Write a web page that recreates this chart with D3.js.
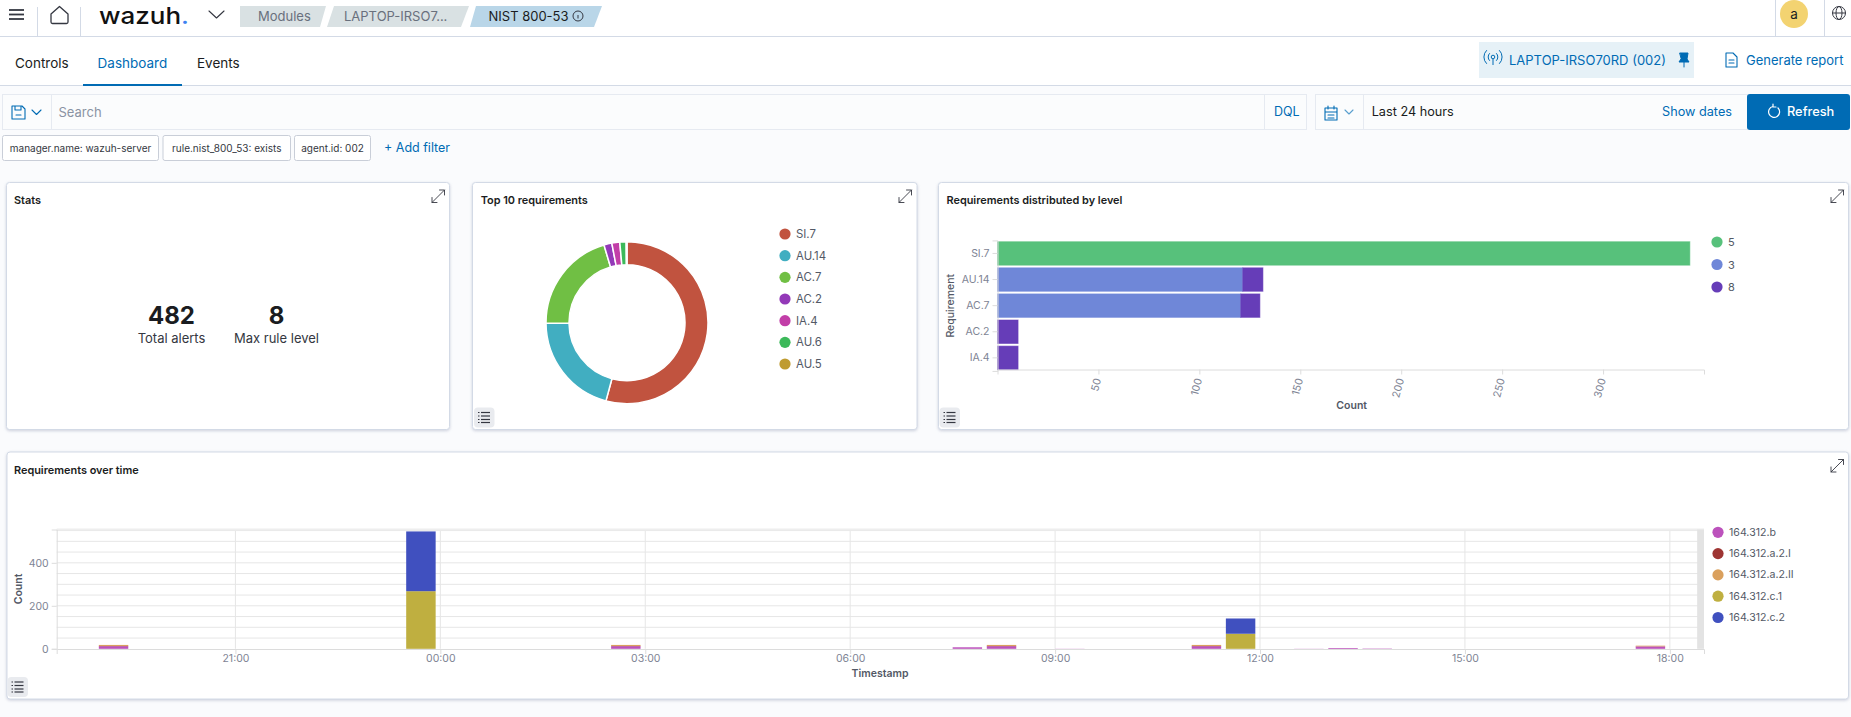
<!DOCTYPE html>
<html><head><meta charset="utf-8">
<script src="https://cdn.jsdelivr.net/npm/d3@7"></script>
<style>
html,body{margin:0;padding:0;background:#fafbfd;overflow:hidden}
svg{display:block}
text{font-family:Inter,"Noto Sans",sans-serif}
</style></head><body><svg id="c" width="1851" height="717"></svg>
<script>
// ---- data ----
const pieLabels = ["SI.7","AU.14","AC.7","AC.2","IA.4","AU.6","AU.5"];
const pieValues = [343,131,130,10,10,8,1];
const pieColors = ["#c1533f","#41aec1","#70bf44","#9339b8","#c23ea8","#3cb95a","#bf9b30"];

const levelCats = ["SI.7","AU.14","AC.7","AC.2","IA.4"];
const levelKeys = ["5","3","8"];
const level5 = [343,0,0,0,0];
const level3 = [0,121.5,120.5,0,0];
const level8 = [0,10,9.5,10.2,10.2];
const levelColors = ["#57c17b","#6f87d8","#663db8"];
const levelTicks = [50,100,150,200,250,300];

const timeKeys = ["164.312.b","164.312.a.2.I","164.312.a.2.II","164.312.c.1","164.312.c.2"];
const timeColors = ["#bc52bc","#9e3533","#daa05d","#bfaf40","#4050bf"];
const timeBins = ["2021-01-01T19:00","2021-01-01T23:30","2021-01-02T02:30","2021-01-02T07:30","2021-01-02T08:00","2021-01-02T09:00","2021-01-02T11:00","2021-01-02T11:30","2021-01-02T12:30","2021-01-02T13:00","2021-01-02T13:30","2021-01-02T17:30"];
const seriesB    = [12,0,12,7,12,0.6,12,0,0.6,3.5,1.5,11];
const seriesAI   = [1,0,1,0,1,0,1,0,0,0,0,0.5];
const seriesAII  = [5,0,5,0,5,0,5,0,0,0,0,3];
const seriesC1   = [0,268,0,0,0,0,0,70,0,0,0,0];
const seriesC2   = [0,278,0,0,0,0,0,71,0,0,0,0];
const timeTicks = ["2021-01-01T21:00","2021-01-02T00:00","2021-01-02T03:00","2021-01-02T06:00","2021-01-02T09:00","2021-01-02T12:00","2021-01-02T15:00","2021-01-02T18:00"];
const countTicks = [0,200,400];
const gridCounts = [50,100,150,200,250,300,350,400,450,500,550];

// ---- helpers ----
const svg = d3.select("#c");
const BLUE="#006bb4", BORDER="#d3dae6", INK="#1a1c21", MUTED="#69707d";
function txt(g,x,y,s,o={}){return g.append("text").attr("x",x).attr("y",y).attr("dominant-baseline","central")
  .attr("font-size",o.size||13.5).attr("font-weight",o.weight||400).attr("fill",o.fill||INK)
  .attr("text-anchor",o.anchor||"start").text(s);}
function rect(g,x,y,w,h,fill,o={}){return g.append("rect").attr("x",x).attr("y",y).attr("width",w).attr("height",h)
  .attr("fill",fill).attr("stroke",o.stroke||"none").attr("rx",o.rx||0);}
function line(g,x1,y1,x2,y2,c,w=1){return g.append("line").attr("x1",x1).attr("y1",y1).attr("x2",x2).attr("y2",y2).attr("stroke",c).attr("stroke-width",w);}
function path(g,d,o={}){return g.append("path").attr("d",d).attr("fill",o.fill||"none").attr("stroke",o.stroke||"none").attr("stroke-width",o.w||1).attr("stroke-linecap","round").attr("stroke-linejoin","round");}

// ---- page chrome ----
const ch = svg.append("g");
rect(ch,0,0,1851,717,"#fafbfd");
rect(ch,0,0,1851,85,"#fff");
line(ch,0,36.5,1851,36.5,BORDER);
line(ch,0,85.5,1851,85.5,BORDER);
// top bar
[10,14.5,19].forEach(y=>line(ch,9,y,24,y,"#343741",1.8));
line(ch,37.5,7,37.5,36,BORDER); line(ch,80.5,7,80.5,36,BORDER);
path(ch,"M51 14 L59.5 6.5 L68 14 V22 a1.5 1.5 0 0 1 -1.5 1.5 H52.5 a1.5 1.5 0 0 1 -1.5 -1.5 Z",{stroke:"#343741",w:1.3});
const logo = txt(ch,99,15.5,"",{size:23,weight:500,fill:"#111"});
logo.attr("textLength",90).attr("lengthAdjust","spacingAndGlyphs");
logo.append("tspan").text("wazuh");
logo.append("tspan").attr("fill","#3d82f1").text(".");
path(ch,"M209 11 L216.5 18 L224 11",{stroke:"#343741",w:1.1});
path(ch,"M240 6 H326 L320 27 H240 Z",{fill:"#d9e1e3"});
path(ch,"M334 6 H469 L461 27 H327 Z",{fill:"#d9e1e3"});
path(ch,"M476 6 H602 L594 27 H470 Z",{fill:"#b9d6e8"});
txt(ch,258,16,"Modules",{fill:MUTED,size:13});
txt(ch,344,16,"LAPTOP-IRSO7...",{fill:MUTED,size:13});
txt(ch,488.5,16,"NIST 800-53",{size:13});
ch.append("circle").attr("cx",578).attr("cy",16).attr("r",5).attr("fill","none").attr("stroke","#343741");
line(ch,578,15,578,18.5,"#343741");
line(ch,1775.5,0,1775.5,36,BORDER); line(ch,1824.5,0,1824.5,36,BORDER);
ch.append("circle").attr("cx",1794).attr("cy",14).attr("r",14).attr("fill","#f3d371");
txt(ch,1794,14,"a",{anchor:"middle",size:13.5});
ch.append("circle").attr("cx",1839).attr("cy",13).attr("r",6.5).attr("fill","none").attr("stroke","#343741");
ch.append("ellipse").attr("cx",1839).attr("cy",13).attr("rx",3).attr("ry",6.5).attr("fill","none").attr("stroke","#343741");
line(ch,1832.5,13,1845.5,13,"#343741");
// tabs
txt(ch,15,62.5,"Controls",{size:13.5});
txt(ch,97.6,62.5,"Dashboard",{size:13.5,fill:BLUE});
txt(ch,197,62.5,"Events",{size:13.5});
rect(ch,83,84,99,2,BLUE);
rect(ch,1479,42,215,36,"#e6f1f7");
[3.5,6.5].forEach(r=>{
  path(ch,`M${1493-r} ${57+r} A${r*1.4} ${r*1.4} 0 0 1 ${1493-r} ${57-r}`,{stroke:BLUE});
  path(ch,`M${1493+r} ${57-r} A${r*1.4} ${r*1.4} 0 0 1 ${1493+r} ${57+r}`,{stroke:BLUE});
});
ch.append("circle").attr("cx",1493).attr("cy",57).attr("r",1.8).attr("fill","none").attr("stroke",BLUE);
line(ch,1493,59,1493,65,BLUE);
txt(ch,1509,60,"LAPTOP-IRSO70RD (002)",{fill:BLUE,size:13});
path(ch,"M1680 53 H1688 L1687 59 L1689 62 H1679 L1681 59 Z M1684 62 V67",{fill:BLUE,stroke:BLUE});
path(ch,"M1726 53 H1733 L1737 57 V67 H1726 Z M1729 60 H1734 M1729 63 H1734",{stroke:BLUE,w:1.1});
txt(ch,1746,60,"Generate report",{fill:BLUE,size:13});
// query bar
rect(ch,2.5,94.5,1304,35,"#fbfcfd",{stroke:"#e6eaf1"});
line(ch,51.5,95,51.5,129,"#e6eaf1"); line(ch,1264.5,95,1264.5,129,"#e6eaf1");
path(ch,"M12 106 H22 L25 109 V119 H12 Z M15 106 V110 H21 V106 M16 115 H21",{stroke:BLUE,w:1.1});
path(ch,"M32 110 L36.5 114.5 L41 110",{stroke:BLUE,w:1.1});
txt(ch,58.5,112,"Search",{fill:"#8a93a3",size:13});
txt(ch,1274,111,"DQL",{fill:BLUE,size:12.5});
rect(ch,1315.5,94.5,432,35,"#fbfcfd",{stroke:"#e6eaf1"});
line(ch,1363.5,95,1363.5,129,"#e6eaf1");
path(ch,"M1325 108 H1337 V120 H1325 Z M1325 112 H1337 M1328 106 V109 M1334 106 V109 M1328 115 H1334 M1328 118 H1334",{stroke:BLUE,w:1.1});
path(ch,"M1345 110 L1349 114 L1353 110",{stroke:"#5a9fce",w:1.1});
txt(ch,1371.7,111.5,"Last 24 hours",{size:12.7});
txt(ch,1662,111,"Show dates",{fill:BLUE,size:12.7});
rect(ch,1747,94,103,36,BLUE,{rx:3});
path(ch,"M1778 108 A5.5 5.5 0 1 1 1773 106.5 M1773 104 V107 H1776",{stroke:"#fff",w:1.2});
txt(ch,1787,111.5,"Refresh",{fill:"#fff",size:12.8,weight:500});
// filter pills
[[2.5,156,"manager.name: wazuh-server"],[163,127.5,"rule.nist_800_53: exists"],[294.5,76,"agent.id: 002"]].forEach(p=>{
  rect(ch,p[0],135.5,p[1],25,"#fff",{stroke:"#c9ced8",rx:2});
  txt(ch,p[0]+p[1]/2,148,p[2],{anchor:"middle",size:10,fill:"#343741"});
});
txt(ch,384,147.5,"+ Add filter",{fill:BLUE,size:12.5});

// ---- panels ----
function panel(x,y,w,h,title,tx,ix,listx){
  const g=svg.append("g");
  rect(g,x+.5,y+.5,w,h,"#fff",{stroke:BORDER,rx:3}).style("filter","drop-shadow(0 1px 1.5px rgba(120,130,160,.35))");
  txt(g,tx,y+18,title,{size:10.9,weight:600});
  const iy=y+8;
  path(g,`M${ix} ${iy+12.5} L${ix+12.5} ${iy} M${ix+7.5} ${iy} H${ix+12.5} V${iy+5} M${ix} ${iy+7.5} V${iy+12.5} H${ix+5}`,{stroke:"#343741",w:.9});
  if(listx!=null){
    const ly=y+h-21.5;
    rect(g,listx,ly,20.5,20,"#e9ebef",{rx:4});
    [5,8.5,12,15].forEach(d=>{line(g,listx+7,ly+d,listx+16,ly+d,"#343741",1.2);line(g,listx+4,ly+d,listx+5.5,ly+d,"#343741",1.2);});
  }
  return g;
}
const stats=panel(6,182,443,247,"Stats",14,432,null);
txt(stats,171.5,315,"482",{anchor:"middle",size:24,weight:700});
txt(stats,171.5,338,"Total alerts",{anchor:"middle",size:13,fill:"#343741"});
txt(stats,276.5,315,"8",{anchor:"middle",size:24,weight:700});
txt(stats,276.5,338,"Max rule level",{anchor:"middle",size:13,fill:"#343741"});

panel(472,182,444.5,247,"Top 10 requirements",480.7,899,474);
panel(938,182,910,247,"Requirements distributed by level",946.5,1831,939.5);
panel(6.5,451.5,1841.5,247,"Requirements over time",14,1831,7.5);

function legend(parent,labels,colors,cx,ys,size){
  const g=parent.append("g").selectAll("g").data(labels).join("g").attr("transform",(d,i)=>`translate(${cx},${ys(i)})`);
  g.append("circle").attr("r",5.6).attr("fill",(d,i)=>colors[i]);
  g.append("text").attr("x",11).attr("dominant-baseline","central").attr("font-size",size).attr("fill","#535966").text(d=>d);
}
function styleAxis(a){
  a.selectAll(".domain").attr("stroke","#dcdcdc");
  a.selectAll("line").attr("stroke","#dcdcdc");
  a.selectAll("text").attr("fill","#7e8494").attr("font-size",10.5).style("font-family","Inter");
}

// ---- donut ----
const pieG=svg.append("g").attr("transform","translate(627,322.7)");
const arcs=d3.pie().sort(null)(pieValues);
pieG.selectAll("path").data(arcs).join("path")
  .attr("d",d3.arc().innerRadius(58).outerRadius(81))
  .attr("fill",(d,i)=>pieColors[i]).attr("stroke","#fff").attr("stroke-width",1.5);
legend(svg,pieLabels,pieColors,785,i=>234+i*21.67,11.4);

// ---- level bars ----
const xL=d3.scaleLinear().domain([0,350]).range([997.5,1704]);
const yL=d3.scaleBand().domain(levelCats).range([240.4,370.9]).paddingInner(.1).paddingOuter(.05);
const levelRows=levelCats.map((c,i)=>({c,"5":level5[i],"3":level3[i],"8":level8[i]}));
const lStack=d3.stack().keys(levelKeys)(levelRows);
const gL=svg.append("g");
gL.selectAll("g").data(lStack).join("g").attr("fill",(d,i)=>levelColors[i]).attr("stroke",(d,i)=>levelColors[i]).attr("stroke-opacity",.55)
  .selectAll("rect").data(d=>d.filter(p=>p[1]>p[0])).join("rect")
  .attr("x",d=>xL(d[0])).attr("width",d=>xL(d[1])-xL(d[0])).attr("y",d=>yL(d.data.c)).attr("height",yL.bandwidth());
const axY=svg.append("g").attr("transform","translate(997.5,0)").call(d3.axisLeft(yL).tickSize(5).tickPadding(3));
styleAxis(axY);
const axX=svg.append("g").attr("transform","translate(0,369.5)").call(d3.axisBottom(xL).tickValues(levelTicks).tickFormat(d3.format("d")).tickSize(5));
styleAxis(axX);
axX.selectAll(".tick text").attr("text-anchor","end").attr("dominant-baseline","central").attr("dy",0).attr("y",0)
  .attr("transform","translate(-1,9) rotate(-75)");
txt(svg,0,0,"Requirement",{anchor:"middle",size:10.5,weight:500,fill:"#535966"}).attr("transform","translate(950,305.7) rotate(-90)");
txt(svg,1351.7,405,"Count",{anchor:"middle",size:10.5,weight:600,fill:"#535966"});
legend(svg,levelKeys,levelColors,1717,i=>242+i*22.5,11);

// ---- time histogram ----
const parse=d3.timeParse("%Y-%m-%dT%H:%M");
const xT=d3.scaleTime().domain([parse("2021-01-01T18:23"),parse("2021-01-02T18:30")]).range([56.7,1704]);
const yT=d3.scaleLinear().domain([0,555]).range([648.8,529.5]);
const gT=svg.append("g");
const gridG=gT.append("g");
gridG.selectAll("line.h").data(gridCounts).join("line").attr("class","h").attr("x1",56.7).attr("x2",1704)
  .attr("y1",d=>yT(d)).attr("y2",d=>yT(d)).attr("stroke","#e6e6e6").attr("stroke-width",1);
gridG.selectAll("line.v").data(timeTicks).join("line").attr("class","v").attr("y1",529.5).attr("y2",648.8)
  .attr("x1",d=>xT(parse(d))).attr("x2",d=>xT(parse(d))).attr("stroke","#e6e6e6").attr("stroke-width",1);
line(gT,56.7,529.5,1704,529.5,"#eeeeee",2);
// out-of-range band at the right end of the time axis
rect(gT,xT(parse("2021-01-02T18:24")),529.5,1704-xT(parse("2021-01-02T18:24")),119.3,"#e3e3e3");
const timeRows=timeBins.map((t,i)=>({t:parse(t),[timeKeys[0]]:seriesB[i],[timeKeys[1]]:seriesAI[i],[timeKeys[2]]:seriesAII[i],[timeKeys[3]]:seriesC1[i],[timeKeys[4]]:seriesC2[i]}));
const tStack=d3.stack().keys(timeKeys)(timeRows);
const binW=xT(parse("2021-01-01T19:30"))-xT(parse("2021-01-01T19:00"))-4.7;
gT.selectAll("g.s").data(tStack).join("g").attr("class","s").attr("fill",(d,i)=>timeColors[i])
  .selectAll("rect").data(d=>d.filter(p=>p[1]>p[0])).join("rect")
  .attr("x",d=>xT(d.data.t)).attr("width",binW).attr("y",d=>yT(d[1])).attr("height",d=>yT(d[0])-yT(d[1]));
const ayT=svg.append("g").attr("transform","translate(56.7,0)").call(d3.axisLeft(yT).tickValues(countTicks).tickSize(5).tickPadding(3));
styleAxis(ayT);
const axT=svg.append("g").attr("transform","translate(0,649)").call(d3.axisBottom(xT).tickValues(timeTicks.map(parse)).tickFormat(d3.timeFormat("%H:%M")).tickSize(5).tickPadding(2));
styleAxis(axT);
axT.selectAll(".tick text").attr("dy","0.55em");
txt(svg,0,0,"Count",{anchor:"middle",size:10.5,weight:600,fill:"#535966"}).attr("transform","translate(18,589) rotate(-90)");
txt(svg,880,673,"Timestamp",{anchor:"middle",size:10.5,weight:600,fill:"#535966"});
legend(svg,timeKeys,timeColors,1718,i=>532.3+i*21.3,10.6);
</script></body></html>
